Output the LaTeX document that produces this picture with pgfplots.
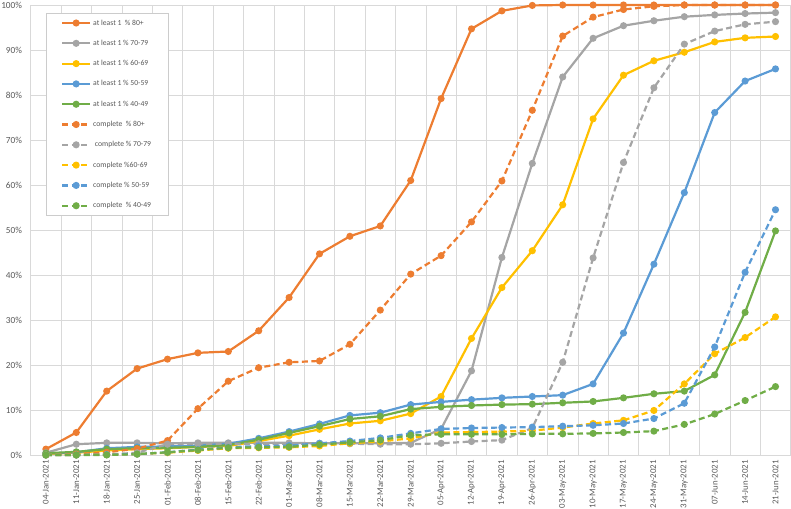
\documentclass[border=0pt]{standalone}
\usepackage{pgfplots}
\pgfplotsset{compat=1.18}
\usepackage{pgfplotstable}
\usepackage{fontspec}
\setmainfont{Carlito}

\definecolor{xorange}{HTML}{ED7D31}
\definecolor{xgray}{HTML}{A5A5A5}
\definecolor{xgold}{HTML}{FFC000}
\definecolor{xblue}{HTML}{5B9BD5}
\definecolor{xgreen}{HTML}{70AD47}
\definecolor{gridc}{HTML}{D9D9D9}
\definecolor{legc}{HTML}{CCCCCC}
\definecolor{txt}{HTML}{595959}

% weekly share vaccinated, in %
\pgfplotstableread{
x a80 a70 a60 a50 a40 c80 c70 c60 c50 c40
0 1.3 0.5 0.2 0.3 0.4 0.0 0.0 0.0 0.0 0.0
1 5.0 2.4 0.5 0.6 0.7 0.2 0.0 0.0 0.0 0.0
2 14.2 2.7 1.0 1.5 1.3 0.6 0.1 0.1 0.1 0.0
3 19.2 2.7 1.3 1.8 1.5 1.4 0.5 0.2 0.2 0.2
4 21.3 2.6 1.5 1.9 1.6 3.2 2.4 0.5 0.6 0.6
5 22.7 2.7 1.8 2.1 1.8 10.3 2.5 1.0 1.2 1.1
6 23.0 2.7 2.0 2.5 2.2 16.4 2.5 1.5 1.7 1.6
7 27.6 2.7 3.1 3.7 3.4 19.4 2.5 1.6 2.0 1.7
8 35.0 2.7 4.3 5.2 4.9 20.6 2.5 1.7 2.1 1.8
9 44.7 2.6 5.7 6.9 6.4 20.9 2.5 2.0 2.6 2.3
10 48.6 2.6 7.0 8.8 8.0 24.6 2.5 2.6 3.1 2.8
11 50.9 2.6 7.6 9.4 8.6 32.2 2.4 3.0 3.8 3.3
12 61.0 2.7 9.2 11.2 10.2 40.2 2.4 3.7 4.8 4.4
13 79.2 5.8 13.0 11.8 10.7 44.3 2.6 5.0 5.8 4.6
14 94.7 18.7 25.9 12.3 11.0 51.8 3.0 5.1 6.0 4.6
15 98.7 43.9 37.2 12.7 11.2 60.9 3.3 5.2 6.1 4.6
16 99.9 64.8 45.4 13.0 11.3 76.6 6.0 5.4 6.2 4.7
17 100 84.0 55.6 13.3 11.6 93.1 20.6 6.1 6.4 4.7
18 100 92.6 74.7 15.8 11.9 97.3 43.8 7.0 6.6 4.8
19 100 95.4 84.4 27.1 12.7 99.0 65.0 7.7 7.0 5.0
20 100 96.5 87.6 42.4 13.6 99.7 81.6 9.9 8.1 5.3
21 100 97.4 89.5 58.3 14.2 100 91.3 15.8 11.5 6.8
22 100 97.8 91.8 76.1 17.8 100 94.2 22.5 24.0 9.1
23 100 98.1 92.7 83.1 31.7 100 95.7 26.1 40.6 12.1
24 100 98.3 93.0 85.8 49.8 100 96.3 30.7 54.5 15.2
}\data

\begin{document}
\begin{tikzpicture}
\begin{axis}[
    name=ax,
    scale only axis,
    width=760bp, height=450bp,
    xmin=-0.5, xmax=24.5,
    ymin=0, ymax=100,
    xtick={0,...,24},
    xticklabels={04-Jan-2021,11-Jan-2021,18-Jan-2021,25-Jan-2021,01-Feb-2021,08-Feb-2021,15-Feb-2021,22-Feb-2021,01-Mar-2021,08-Mar-2021,15-Mar-2021,22-Mar-2021,29-Mar-2021,05-Apr-2021,12-Apr-2021,19-Apr-2021,26-Apr-2021,03-May-2021,10-May-2021,17-May-2021,24-May-2021,31-May-2021,07-Jun-2021,14-Jun-2021,21-Jun-2021},
    minor xtick={-0.5,0.5,...,24.5},
    xminorgrids, ymajorgrids,
    ytick={0,10,...,100},
    yticklabels={0\%,10\%,20\%,30\%,40\%,50\%,60\%,70\%,80\%,90\%,100\%},
    grid style={gridc, line width=0.75bp},
    minor grid style={gridc, line width=0.75bp},
    axis line style={gridc, line width=0.75bp},
    major tick length=0pt, minor tick length=0pt,
    tick label style={text=txt, font=\fontsize{9.3}{11}\selectfont},
    xticklabel style={rotate=90, anchor=east, inner xsep=5bp, inner ysep=0pt, font=\fontsize{8.9}{10}\selectfont},
    yticklabel style={anchor=east, inner xsep=8.5bp, inner ysep=0pt},
    clip=false,
    every axis plot/.append style={line width=2.2bp, mark=*, mark size=2.4bp},
    legend image code/.code={\draw[mark repeat=2,mark phase=2] plot coordinates {(0bp,0bp)(14bp,0bp)(28bp,0bp)};},
    legend cell align=left,
    legend style={at={(0.0197,0.983)}, anchor=north west, draw=legc, fill=white,
        line width=0.75bp, inner xsep=15bp, inner ysep=4bp, row sep=8.3bp,
        font=\fontsize{7.7}{9}\selectfont, text=txt,
        nodes={text height=6bp, text depth=2bp, inner ysep=2bp, inner xsep=2bp}},
]
\addplot[xorange] table[x=x, y=a80] {\data};
\addlegendentry{at least 1\ \ \% 80+}
\addplot[xgray] table[x=x, y=a70] {\data};
\addlegendentry{at least 1 \% 70-79}
\addplot[xgold] table[x=x, y=a60] {\data};
\addlegendentry{at least 1 \% 60-69}
\addplot[xblue] table[x=x, y=a50] {\data};
\addlegendentry{at least 1 \% 50-59}
\addplot[xgreen] table[x=x, y=a40] {\data};
\addlegendentry{at least 1 \% 40-49}
\addplot[xorange, dash pattern=on 6bp off 3.5bp, mark options={solid}] table[x=x, y=c80] {\data};
\addlegendentry{complete\ \ \% 80+}
\addplot[xgray, dash pattern=on 6bp off 3.5bp, mark options={solid}] table[x=x, y=c70] {\data};
\addlegendentry{\ complete \% 70-79}
\addplot[xgold, dash pattern=on 6bp off 3.5bp, mark options={solid}] table[x=x, y=c60] {\data};
\addlegendentry{complete \%60-69}
\addplot[xblue, dash pattern=on 6bp off 3.5bp, mark options={solid}] table[x=x, y=c50] {\data};
\addlegendentry{complete \% 50-59}
\addplot[xgreen, dash pattern=on 6bp off 3.5bp, mark options={solid}] table[x=x, y=c40] {\data};
\addlegendentry{complete\ \ \% 40-49}
\end{axis}
\pgfresetboundingbox
\path ([shift={(-30.7bp,-54bp)}]ax.south west) rectangle ([shift={(0.3bp,5bp)}]ax.north east);
\end{tikzpicture}
\end{document}
